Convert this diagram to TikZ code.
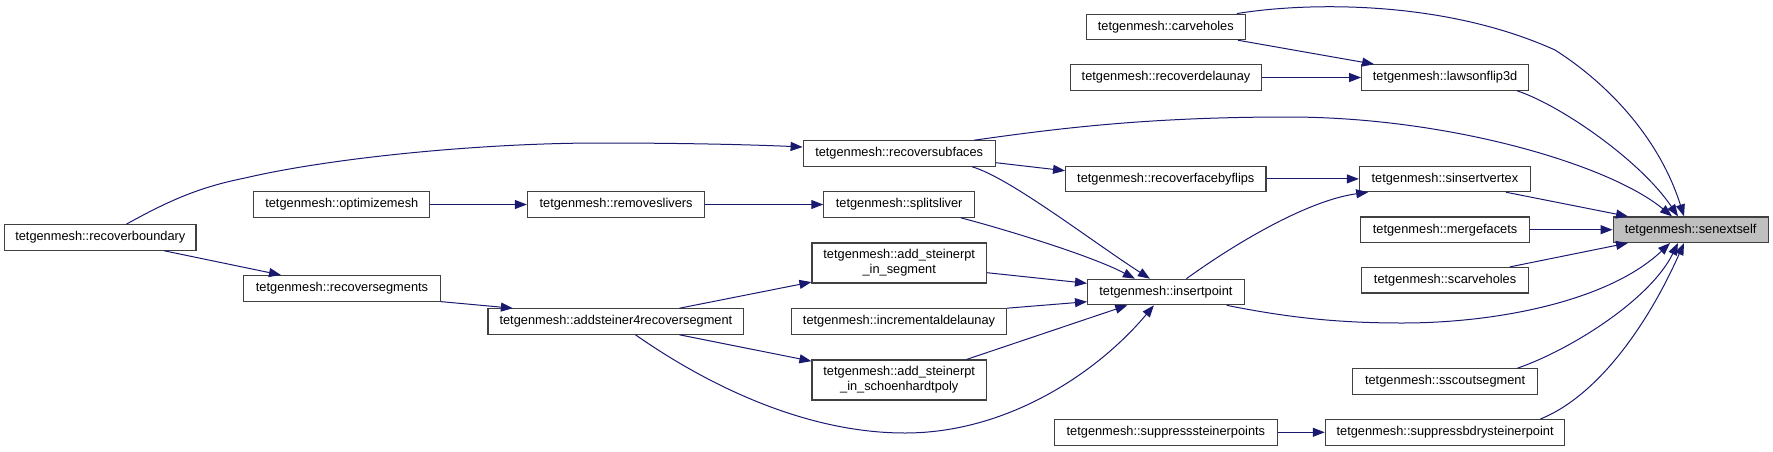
\documentclass[tikz,border=0pt]{standalone}
\usepackage{fontspec}
\setmainfont{Liberation Sans}
\usetikzlibrary{arrows.meta}
\definecolor{edgeblue}{HTML}{191970}
\definecolor{boxline}{HTML}{404040}
\definecolor{hilite}{HTML}{BFBFBF}
\begin{document}
\begin{tikzpicture}[x=1pt,y=-1pt,
  fn/.style={draw=boxline,line width=1.1pt,fill=white,inner sep=0pt,minimum height=25.5pt,align=center,
    font=\fontsize{12.8pt}{15pt}\selectfont},
  fn2/.style={fn,minimum height=40pt},
  edge/.style={draw=edgeblue,line width=1pt,-{Triangle[length=12pt,width=9pt]}}]
\useasboundingbox (0,0) rectangle (1773,451);
% nodes
\node[fn,minimum width=159pt] (ch) at (1165.8,26.9) {tetgenmesh::carveholes};
\node[fn,minimum width=190.8pt] (rd) at (1166,77.5) {tetgenmesh::recoverdelaunay};
\node[fn,minimum width=166.8pt] (lf) at (1445.1,77.5) {tetgenmesh::lawsonflip3d};
\node[fn,minimum width=192.1pt] (rsf) at (899.2,153.5) {tetgenmesh::recoversubfaces};
\node[fn,minimum width=200.4pt] (rfbf) at (1165.8,178.9) {tetgenmesh::recoverfacebyflips};
\node[fn,minimum width=171pt] (siv) at (1444.9,178.9) {tetgenmesh::sinsertvertex};
\node[fn,minimum width=176.1pt] (om) at (341.8,204.5) {tetgenmesh::optimizemesh};
\node[fn,minimum width=177.4pt] (rl) at (616.1,204.5) {tetgenmesh::removeslivers};
\node[fn,minimum width=150.8pt] (ss) at (899.2,204.5) {tetgenmesh::splitsliver};
\node[fn,minimum width=191.4pt] (rb) at (100.3,237.5) {tetgenmesh::recoverboundary};
\node[fn,minimum width=168.4pt] (mf) at (1445.1,229.7) {tetgenmesh::mergefacets};
\node[fn,minimum width=155pt,fill=hilite] (se) at (1690.6,229.7) {tetgenmesh::senextself};
\node[fn2,minimum width=174.5pt] (seg) at (899.2,263) {tetgenmesh::add\_steinerpt\\\_in\_segment};
\node[fn,minimum width=166.8pt] (sc) at (1445.1,280.2) {tetgenmesh::scarveholes};
\node[fn,minimum width=196.3pt] (rseg) at (342,288.3) {tetgenmesh::recoversegments};
\node[fn,minimum width=156.7pt] (ip) at (1165.9,292) {tetgenmesh::insertpoint};
\node[fn,minimum width=255.8pt] (a4) at (615.9,321.5) {tetgenmesh::addsteiner4recoversegment};
\node[fn,minimum width=214.7pt] (incd) at (899,321.5) {tetgenmesh::incrementaldelaunay};
\node[fn2,minimum width=174.5pt] (sch) at (899.2,380) {tetgenmesh::add\_steinerpt\\\_in\_schoenhardtpoly};
\node[fn,minimum width=185.2pt] (scs) at (1445.1,381.5) {tetgenmesh::sscoutsegment};
\node[fn,minimum width=222.5pt] (sst) at (1165.9,432.3) {tetgenmesh::suppresssteinerpoints};
\node[fn,minimum width=239.6pt] (sbs) at (1445.1,432.3) {tetgenmesh::suppressbdrysteinerpoint};
% edges
\draw[edge] ([xshift=26pt]rb.north) .. controls (170,200) and (200,187) .. (245,178)
  .. controls (330,158) and (480,143) .. (600,143)
  .. controls (690,143) and (760,145) .. ([yshift=6.5pt]rsf.west);
\draw[edge] ([xshift=64pt]rb.south) -- ([xshift=-61pt]rseg.north);
\draw[edge] (om.east) -- (rl.west);
\draw[edge] (rseg.south east) -- ([xshift=-103pt]a4.north);
\draw[edge] (rl.east) -- (ss.west);
\draw[edge] ([xshift=63.6pt]a4.north) -- ([yshift=1.5pt]seg.south west);
\draw[edge] ([xshift=63.6pt]a4.south) -- ([yshift=-1.7pt]sch.north west);
\draw[edge] ([xshift=19.6pt]a4.south) .. controls (700,380) and (800,433) .. (905,433)
  .. controls (1010,433) and (1100,370) .. ([xshift=-12pt]ip.south);
\draw[edge] ([yshift=-9.2pt]rsf.east) -- ([yshift=8.2pt]rfbf.west);
\draw[edge] ([xshift=73pt]rsf.south) .. controls (1010,178) and (1090,240) .. ([xshift=-16pt]ip.north);
\draw[edge] ([xshift=61.6pt]ss.south) .. controls (1000,228) and (1090,255) .. ([xshift=-31pt]ip.north);
\draw[edge] ([yshift=-9.7pt]seg.east) -- ([yshift=8.7pt]ip.west);
\draw[edge] (incd.north east) -- ([yshift=-9.7pt]ip.west);
\draw[edge] ([xshift=67.3pt]sch.north) -- ([xshift=-38.6pt]ip.south);
\draw[edge] ([xshift=72pt]ch.south) -- ([xshift=-71pt]lf.north);
\draw[edge] (rd.east) -- (lf.west);
\draw[edge] (rfbf.east) -- (siv.west);
\draw[edge] ([xshift=20.5pt]ip.north) .. controls (1240,240) and (1310,200) .. ([xshift=-76.7pt]siv.south);
\draw[edge] (sst.east) -- (sbs.west);
% to senextself
\draw[edge] ([xshift=-9pt]ch.north east) .. controls (1300,3) and (1440,-2) .. (1555,50)
  .. controls (1610,85) and (1660,140) .. ([xshift=-6.6pt]se.north);
\draw[edge] ([xshift=72pt]lf.south) .. controls (1560,105) and (1640,160) .. ([xshift=-12.6pt]se.north);
\draw[edge] ([xshift=75pt]rsf.north) .. controls (1060,128) and (1150,117) .. (1288,117)
  .. controls (1450,117) and (1610,165) .. ([xshift=-18.6pt]se.north);
\draw[edge] ([xshift=61pt]siv.south) -- ([xshift=-62.6pt]se.north);
\draw[edge] (mf.east) -- (se.west);
\draw[edge] ([xshift=64.7pt]sc.north) -- ([xshift=-62.6pt]se.south);
\draw[edge] ([xshift=60.7pt]ip.south) .. controls (1290,318) and (1340,323) .. (1402,323)
  .. controls (1500,323) and (1610,300) .. ([xshift=-20.6pt]se.south);
\draw[edge] ([xshift=72.3pt]scs.north) .. controls (1570,350) and (1650,300) .. ([xshift=-12.6pt]se.south);
\draw[edge] ([xshift=95.3pt]sbs.north) .. controls (1600,395) and (1650,320) .. ([xshift=-6.6pt]se.south);
\end{tikzpicture}
\end{document}
